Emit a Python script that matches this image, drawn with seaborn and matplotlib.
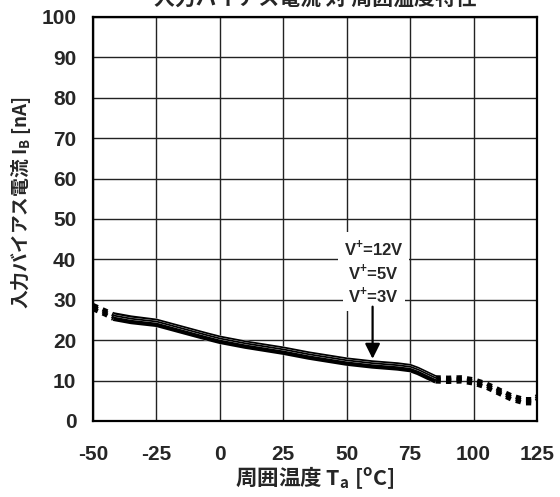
import matplotlib
matplotlib.use("Agg")
import matplotlib.pyplot as plt
import matplotlib.patheffects as pe
import seaborn as sns

# Input bias current vs ambient temperature (three supply voltages)
temp = [-50, -45, -42, -35, -25, -15, -5, 0, 10, 25, 35, 50, 60, 70, 75,
        78, 80, 83, 85, 90, 95, 100, 105, 110, 115, 120, 123, 125]
ib_12v = [28.7, 27.3, 26.4, 25.6, 24.8, 23.1, 21.4, 20.6, 19.4, 17.9, 16.7,
          15.2, 14.5, 14.0, 13.6, 12.9, 12.3, 11.4, 10.8, 10.7, 10.8, 10.3,
          9.3, 7.8, 6.3, 5.4, 5.4, 6.1]
ib_5v = [28.2, 26.8, 25.8, 25.0, 24.3, 22.6, 20.9, 20.1, 18.9, 17.4, 16.2,
         14.7, 14.0, 13.5, 13.1, 12.4, 11.8, 10.9, 10.3, 10.2, 10.3, 9.8,
         8.8, 7.3, 5.8, 4.9, 4.9, 5.6]
ib_3v = [27.7, 26.3, 25.3, 24.5, 23.8, 22.1, 20.4, 19.6, 18.4, 16.9, 15.7,
         14.2, 13.5, 13.0, 12.6, 11.9, 11.3, 10.4, 9.8, 9.7, 9.8, 9.3,
         8.3, 6.8, 5.3, 4.4, 4.4, 5.1]
series = {"V+=12V": ib_12v, "V+=5V": ib_5v, "V+=3V": ib_3v}
labels = ["V$^\\mathregular{+}$=12V", "V$^\\mathregular{+}$=5V", "V$^\\mathregular{+}$=3V"]

# guaranteed (measured) temperature range; outside it the curves are dotted
t_lo, t_hi = -42, 85

x_ticks = [-50, -25, 0, 25, 50, 75, 100, 125]
y_ticks = [0, 10, 20, 30, 40, 50, 60, 70, 80, 90, 100]

sns.set_style("white")
plt.rcParams["font.family"] = ["Liberation Sans", "Noto Sans CJK JP"]
plt.rcParams["font.weight"] = "bold"
cjk = ["Noto Sans CJK JP", "Liberation Sans"]

fig = plt.figure(figsize=(5.6, 4.97), dpi=100)
ax = fig.add_axes([93 / 560, 1 - 421 / 497, 444 / 560, 404 / 497])
ax.set_axisbelow(True)

outline = [pe.Stroke(linewidth=3.45, foreground="white"), pe.Normal()]
for name, vals in series.items():
    mid_t = [t for t in temp if t_lo <= t <= t_hi]
    mid_v = [v for t, v in zip(temp, vals) if t_lo <= t <= t_hi]
    sns.lineplot(x=mid_t, y=mid_v, ax=ax, color="black", lw=3.15,
                 path_effects=outline, solid_capstyle="butt", zorder=3)
    left_t = [t for t in temp if t <= t_lo]
    left_v = [v for t, v in zip(temp, vals) if t <= t_lo]
    right_t = [t for t in temp if t >= t_hi]
    right_v = [v for t, v in zip(temp, vals) if t >= t_hi]
    for xs, ys in ((left_t, left_v), (right_t, right_v)):
        sns.lineplot(x=xs, y=ys, ax=ax, color="black", lw=3.15,
                     linestyle=(0, (1.2, 1.2)), dash_capstyle="butt", zorder=3)

ax.set_xlim(-50, 125)
ax.set_ylim(0, 100)
ax.set_xticks(x_ticks)
ax.set_yticks(y_ticks)
ax.set_xticklabels([str(v) for v in x_ticks], fontsize=15, fontweight="bold")
ax.set_yticklabels([str(v) for v in y_ticks], fontsize=15, fontweight="bold")
ax.tick_params(axis="x", length=0, pad=17.5)
ax.tick_params(axis="y", length=0, pad=12)
ax.grid(True, color="#222222", lw=1.0)
for sp in ax.spines.values():
    sp.set_color("black")
    sp.set_linewidth(1.6)

ax.set_xlabel("周囲温度 T$_\\mathregular{a}$ [$^\\mathregular{o}$C]",
              fontsize=15.5, fontweight="bold", family=cjk)
ax.set_ylabel("入力バイアス電流 I$_\\mathregular{B}$ [nA]",
              fontsize=13.5, fontweight="bold", family=cjk)
ax.xaxis.set_label_coords(0.5, -0.108)
ax.yaxis.set_label_coords(-0.135, 0.54)

fig.text(315 / 560, 1 - 6 / 497, "入力バイアス電流 対 周囲温度特性",
         ha="center", va="baseline", fontsize=15, fontweight="bold", family=cjk)

# supply-voltage legend with arrow
for lab, yv in zip(labels, [42.8, 36.9, 31.2]):
    ax.text(60.6, yv, lab, ha="center", va="center", fontsize=12,
            fontweight="bold", zorder=4,
            bbox=dict(boxstyle="square,pad=0.35", fc="white", ec="none"))
ax.annotate("", xy=(60.2, 15.4), xytext=(60.2, 28.3),
            arrowprops=dict(arrowstyle="-|>,head_length=0.9,head_width=0.45",
                            color="black", lw=1.6, shrinkA=0, shrinkB=0),
            zorder=5)

fig.savefig("out.png", dpi=100)
